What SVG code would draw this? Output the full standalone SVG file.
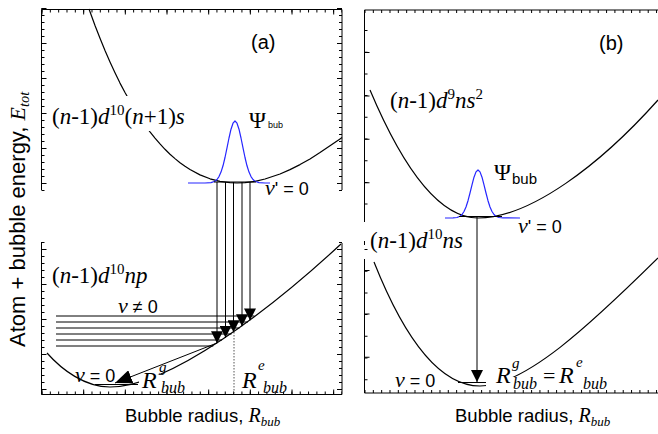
<svg xmlns="http://www.w3.org/2000/svg" width="658" height="434" viewBox="0 0 658 434">
<style>
.ax{stroke:#000;stroke-width:1;fill:none}
.tk3{stroke:#000;stroke-width:3;fill:none}
.tk5{stroke:#000;stroke-width:5;fill:none}
.crv{stroke:#000;stroke-width:1.2;fill:none;stroke-linejoin:round}
.wav{stroke:#2626ff;stroke-width:1.2;fill:none;stroke-linejoin:round}
.ln{stroke:#000;stroke-width:1;fill:none}
.sans{font-family:"Liberation Sans",Arial,sans-serif}
.ser{font-family:"Liberation Serif","Times New Roman",serif}
.it{font-style:italic}
text{fill:#000}
</style>
<defs>
<marker id="tri" viewBox="0 0 12 12" refX="12" refY="6" markerWidth="12" markerHeight="12" markerUnits="userSpaceOnUse" orient="auto">
<path d="M0,0 L12,6 L0,12 z" fill="#000"/>
</marker>
<marker id="big" viewBox="0 0 17 14" refX="17" refY="7" markerWidth="17" markerHeight="14" markerUnits="userSpaceOnUse" orient="auto">
<path d="M0,0 L17,7 L0,14 z" fill="#000"/>
</marker>
<mask id="mA1" maskUnits="userSpaceOnUse" x="0" y="0" width="658" height="434">
<rect x="0" y="0" width="658" height="434" fill="#fff"/>
<rect x="50" y="96" width="140" height="35" fill="#000"/>
</mask>
<mask id="mA2" maskUnits="userSpaceOnUse" x="0" y="0" width="658" height="434">
<rect x="0" y="0" width="658" height="434" fill="#fff"/>
<rect x="139" y="374.5" width="24" height="18" fill="#000"/>
</mask>
<mask id="mB2" maskUnits="userSpaceOnUse" x="0" y="0" width="658" height="434">
<rect x="0" y="0" width="658" height="434" fill="#fff"/>
<rect x="486" y="377" width="30" height="14" fill="#000"/>
</mask>
</defs>
<rect width="658" height="434" fill="#fff"/>

<g id="axes-a">
<path class="ax" d="M41.5,9.5 H342 M41.5,9.5 V190 M41.5,242 V394.5 H342 M342,9.5 V190 M342,243 V394.5"/>
<path class="tk3" d="M43,8 V191 M43,242 V395" stroke-dasharray="1 6"/>
<path class="tk5" d="M44,8 V191 M44,249 V395" stroke-dasharray="1 34"/>
<path class="tk3" d="M340.5,8 V191 M340.5,242 V395" stroke-dasharray="1 6"/>
<path class="tk5" d="M339.5,8 V191 M339.5,249 V395" stroke-dasharray="1 34"/>
<path class="tk3" d="M41.5,11 H342 M41.5,393 H342" stroke-dasharray="1 7.33"/>
<path class="tk5" d="M41.5,12 H342 M41.5,392 H342" stroke-dasharray="1 40.67"/>
</g>

<g id="axes-b">
<path class="ax" d="M364.5,10 H658 M364.5,10 V222 M364.5,241 V245 M364.5,259 V393 H658"/>
<path class="tk3" d="M366,30 V222 M366,249 V393" stroke-dasharray="1 20.7"/>
<path class="tk5" d="M367,52 V222 M367,270 V393" stroke-dasharray="1 42.4"/>
<path class="tk3" d="M364.5,11.5 H658 M364.5,391.5 H658" stroke-dasharray="1 7.33"/>
</g>

<g id="ylabel">
<text class="sans" font-size="22" transform="translate(25,347) rotate(-90)">Atom + bubble energy, <tspan class="ser it">E</tspan><tspan class="ser it" font-size="14.5" dy="4">tot</tspan></text>
</g>

<g id="panel-a-label"><text class="sans" x="251" y="49" font-size="20">(a)</text></g>
<g id="panel-b-label"><text class="sans" x="599" y="49.5" font-size="20">(b)</text></g>

<g id="state-a-upper">
<polyline class="crv" mask="url(#mA1)" points="89,9 95,25.5 100,38.3 105,50.5 110,61.9 115,72.7 120,83.1 125,92.5 130,101.4 135,109.8 140,117.7 145,125 150,131.8 155,138.1 160,143.9 165,149.3 170,154.2 175,158.6 180,162.7 185,166.3 190,169.5 200,174.9 210,178.8 220,181.4 230,182.7 237,183 245,182.7 255,181.3 265,179 280,174 290,169.6 300,164.6 310,158.9 320,152.6 330,145.7 340,139 342,137.6"/>
<text class="ser" x="52" y="124" font-size="23">(<tspan class="it">n</tspan>-1)<tspan class="it">d</tspan><tspan font-size="15" dy="-9">10</tspan><tspan dy="9">(</tspan><tspan class="it">n</tspan>+1)<tspan class="it">s</tspan></text>
</g>

<g id="wave-a">
<polyline class="wav" points="188,183 205,183 211,182.6 215,181.2 217,179.5 219,176.6 221,172.1 223,165.8 225,157.5 227,147.9 229,138 231,129.2 233,123.2 235,121 237,123.2 239,129.2 241,138 243,147.9 245,157.5 247,165.8 249,172.1 251,176.6 253,179.5 255,181.2 259,182.6 265,183 270,183"/>
<text class="ser" x="249" y="128" font-size="23">Ψ</text>
<text class="sans" x="268" y="128" font-size="9">bub</text>
</g>

<g id="level-a-upper">
<line class="ln" x1="214" y1="182" x2="256" y2="182" stroke-width="1.6"/>
<text x="265" y="195"><tspan class="ser it" font-size="22">v</tspan><tspan class="sans" font-size="18">' = 0</tspan></text>
</g>

<g id="state-a-lower">
<path class="crv" mask="url(#mA2)" d="M47,353 C62,370 85,387 110,387 C170,387 272,308 341,244"/>
<text class="ser" x="52" y="283" font-size="23">(<tspan class="it">n</tspan>-1)<tspan class="it">d</tspan><tspan font-size="15" dy="-9">10</tspan><tspan class="it" dy="9">np</tspan></text>
</g>

<g id="levels-a-lower">
<path class="ln" d="M56,316 H254.5 M56,322 H248 M56,328 H239.5 M56,334 H231.5 M56,340 H222 M56,346 H213.3"/>
<text x="118" y="313"><tspan class="ser it" font-size="22">v</tspan><tspan class="sans" font-size="18"> ≠ 0</tspan></text>
<line class="ln" x1="95" y1="384.5" x2="138" y2="384.5"/>
<text x="75" y="382"><tspan class="ser it" font-size="22">v</tspan><tspan class="sans" font-size="18"> = 0</tspan></text>
</g>

<g id="radius-labels-a">
<line x1="234" y1="332" x2="234" y2="394" stroke="#555" stroke-width="1" stroke-dasharray="1.5 1.5"/>
<text class="ser it" x="142" y="388" font-size="24">R</text>
<text class="ser it" x="159" y="372" font-size="15">g</text>
<text class="ser it" x="161" y="393" font-size="16">bub</text>
<text class="ser it" x="242" y="388" font-size="24">R</text>
<text class="ser it" x="258" y="370" font-size="15">e</text>
<text class="ser it" x="263" y="393" font-size="16">bub</text>
</g>

<g id="xlabel-a">
<text class="sans" x="125" y="422" font-size="18.5">Bubble radius, <tspan class="ser it" font-size="20">R</tspan><tspan class="ser it" font-size="13" dy="4">bub</tspan></text>
</g>

<g id="state-b-upper">
<path class="crv" d="M370,90 Q424,218 478,218 C530,218 600,165 658,100"/>
<text class="ser" x="390" y="108" font-size="23">(<tspan class="it">n</tspan>-1)<tspan class="it">d</tspan><tspan font-size="15" dy="-9">9</tspan><tspan class="it" dy="9">ns</tspan><tspan font-size="15" dy="-9">2</tspan></text>
</g>

<g id="wave-b">
<polyline class="wav" points="445,218 453,217.9 457,217.5 460,216.2 462,214.5 464,211.5 466,207 468,200.7 470,193 472,184.8 474,177.2 476,171.9 478,170 480,171.9 482,177.2 484,184.8 486,193 488,200.7 490,207 492,211.5 494,214.5 496,216.2 499,217.5 503,217.9 520,218"/>
<text class="ser" x="494" y="180" font-size="23">Ψ</text>
<text class="sans" x="512" y="184" font-size="15">bub</text>
</g>

<g id="level-b-upper">
<line class="ln" x1="459" y1="216.5" x2="502" y2="216.5" stroke-width="1.4"/>
<text x="518" y="233"><tspan class="ser it" font-size="22">v</tspan><tspan class="sans" font-size="18">' = 0</tspan></text>
</g>

<g id="state-b-lower">
<path class="crv" mask="url(#mB2)" d="M374,262 C405,340 440,386 480,386 C525,386 590,325 658,258"/>
<text class="ser" x="370" y="248" font-size="23">(<tspan class="it">n</tspan>-1)<tspan class="it">d</tspan><tspan font-size="15" dy="-9">10</tspan><tspan class="it" dy="9">ns</tspan></text>
<line class="ln" x1="458" y1="382.5" x2="486" y2="382.5"/>
<text x="395" y="387"><tspan class="ser it" font-size="22">v</tspan><tspan class="sans" font-size="18"> = 0</tspan></text>
</g>

<g id="radius-labels-b">
<text class="ser it" x="496" y="383" font-size="24">R</text>
<text class="ser it" x="512" y="368" font-size="15">g</text>
<text class="ser it" x="513" y="389" font-size="16">bub</text>
<text class="ser" x="543" y="383" font-size="22">=</text>
<text class="ser it" x="559" y="383" font-size="24">R</text>
<text class="ser it" x="576" y="367" font-size="15">e</text>
<text class="ser it" x="583" y="389" font-size="16">bub</text>
</g>

<g id="xlabel-b">
<text class="sans" x="455" y="422" font-size="18.5">Bubble radius, <tspan class="ser it" font-size="20">R</tspan><tspan class="ser it" font-size="13" dy="4">bub</tspan></text>
</g>

<g id="connectors">
<line class="ln" x1="217" y1="182" x2="217" y2="343.3" marker-end="url(#tri)"/>
<line class="ln" x1="225.5" y1="182" x2="225.5" y2="337.7" marker-end="url(#tri)"/>
<line class="ln" x1="233.5" y1="182" x2="233.5" y2="332.3" marker-end="url(#tri)"/>
<line class="ln" x1="242" y1="182" x2="242" y2="326.2" marker-end="url(#tri)"/>
<line class="ln" x1="250" y1="182" x2="250" y2="320.4" marker-end="url(#tri)"/>
<line class="ln" x1="217" y1="343" x2="115" y2="383" marker-end="url(#big)"/>
<line class="ln" x1="477" y1="217" x2="477" y2="382" marker-end="url(#tri)"/>
</g>
</svg>
